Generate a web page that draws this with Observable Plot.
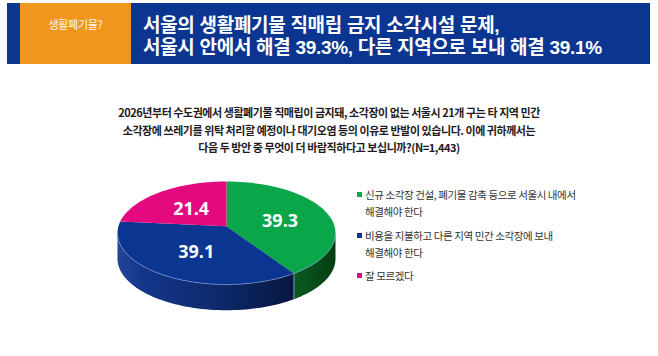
<!DOCTYPE html>
<html><head><meta charset="utf-8">
<script src="https://cdn.jsdelivr.net/npm/d3@7"></script>
<script src="https://cdn.jsdelivr.net/npm/@observablehq/plot@0.6"></script>
<style>
body{margin:0;background:#fff;}
#page{position:relative;width:658px;height:356px;overflow:hidden;background:#fff;font-family:"Noto Sans CJK KR","Noto Sans",sans-serif;}
.hdr{position:absolute;left:7px;top:3px;width:643px;height:61px;background:#0a3591;}
.tag{position:absolute;left:20px;top:3px;width:111px;height:61px;background:#f0961e;color:#fff6ea;font-size:11px;text-align:center;letter-spacing:-0.3px;}
.tag span{position:absolute;left:0;width:111px;top:14px;line-height:14px;}
.title{position:absolute;left:143px;top:15px;color:#fff;font-family:"Liberation Sans","Noto Sans CJK KR",sans-serif;font-weight:700;font-size:19px;line-height:21.5px;letter-spacing:-0.3px;white-space:nowrap;}
.q{position:absolute;left:0;width:658px;top:104px;text-align:center;color:#1e1b1c;font-weight:700;font-size:11px;line-height:17.5px;letter-spacing:-0.45px;}
#chart{position:absolute;left:100px;top:170px;}
.legend{position:absolute;left:357px;top:186px;color:#333;font-size:10.5px;line-height:17px;letter-spacing:-0.4px;}
.item{position:relative;padding-left:8px;margin-bottom:6.5px;white-space:nowrap;}
.sw{position:absolute;left:0;top:6px;width:5px;height:5px;}
</style></head>
<body><div id="page">
<div class="hdr"></div>
<div class="tag"><span id="tagText"></span></div>
<div class="title" id="title"></div>
<div class="q" id="question"></div>
<div id="chart"></div>
<div class="legend" id="legend"></div>
</div>
<script>
// ---- data ----
const tagLabel = "생활폐기물?";
const titleLines = ["서울의 생활폐기물 직매립 금지 소각시설 문제,", "서울시 안에서 해결 39.3%, 다른 지역으로 보내 해결 39.1%"];
const questionLines = [
  "2026년부터 수도권에서 생활폐기물 직매립이 금지돼, 소각장이 없는 서울시 21개 구는 타 지역 민간",
  "소각장에 쓰레기를 위탁 처리할 예정이나 대기오염 등의 이유로 반발이 있습니다. 이에 귀하께서는",
  "다음 두 방안 중 무엇이 더 바람직하다고 보십니까?(N=1,443)"
];
const categories = ["서울시 내 해결", "다른 지역 소각장", "잘 모르겠다"];
const legendLines = [
  ["신규 소각장 건설, 폐기물 감축 등으로 서울시 내에서", "해결해야 한다"],
  ["비용을 지불하고 다른 지역 민간 소각장에 보내", "해결해야 한다"],
  ["잘 모르겠다"]
];
const values = [39.3, 39.1, 21.4];
const topColors = ["#0aa64a", "#0a3591", "#e4097f"];
const sideColors = ["url(#greenSide)", "url(#blueSide)", "url(#pinkSide)"];

// ---- text ----
document.getElementById("tagText").textContent = tagLabel;
const titleEl = document.getElementById("title");
titleLines.forEach(s => { const d = document.createElement("div"); d.textContent = s; titleEl.appendChild(d); });
document.getElementById("question").innerHTML = questionLines.join("<br>");
const lg = document.getElementById("legend");
legendLines.forEach((lines, i) => {
  const it = document.createElement("div"); it.className = "item";
  const sw = document.createElement("div"); sw.className = "sw"; sw.style.background = topColors[i];
  it.appendChild(sw);
  const t = document.createElement("div"); t.innerHTML = lines.join("<br>");
  it.appendChild(t); lg.appendChild(it);
});

// ---- pie geometry ----
const TAU = Math.PI * 2;
const arcs = d3.pie().sort(null).startAngle(0).endAngle(TAU)(values);
const thick = 0.5;           // side thickness in y units
const apex = [0, -0.13];     // perspective apex of the top face
const rim = a => [Math.sin(a), -Math.cos(a)];
const steps = a0 => a1 => d3.range(0, 61).map(k => a0 + (a1 - a0) * k / 60);

const topPolys = [], sidePolys = [], labels = [], rimLine = [];
arcs.forEach((a, i) => {
  const pts = [apex, ...steps(a.startAngle)(a.endAngle).map(rim), apex];
  pts.forEach(([x, y]) => topPolys.push({x, y, k: categories[i], fill: topColors[i]}));
  const s0 = Math.max(a.startAngle, Math.PI / 2), s1 = Math.min(a.endAngle, 3 * Math.PI / 2);
  if (s1 > s0) {
    const up = steps(s0)(s1).map(rim);
    const down = up.slice().reverse().map(([x, y]) => [x, y + thick]);
    [...up, ...down, up[0]].forEach(([x, y]) => sidePolys.push({x, y, k: categories[i], fill: sideColors[i]}));
  }
  const m = (a.startAngle + a.endAngle) / 2, r = rim(m), f = 0.52;
  labels.push({x: apex[0] + f * (r[0] - apex[0]), y: apex[1] + f * (r[1] - apex[1]), v: values[i].toFixed(1)});
});
steps(Math.PI / 2)(3 * Math.PI / 2).map(rim).forEach(([x, y]) => rimLine.push({x, y}));
const seam = arcs.filter(a => a.endAngle > Math.PI / 2 && a.endAngle < 3 * Math.PI / 2)
  .flatMap((a, j) => { const [x, y] = rim(a.endAngle); return [{x, y, j}, {x, y: y + thick, j}]; });

const plot = Plot.plot({
  width: 250, height: 150,
  margin: 0,
  x: {domain: [-1, 1], range: [17, 235], axis: null},
  y: {domain: [-1, 1], range: [11, 114], axis: null},
  marks: [
    Plot.line(sidePolys, {x: "x", y: "y", z: "k", fill: "fill", stroke: "none", curve: "linear"}),
    Plot.line(seam, {x: "x", y: "y", z: "j", stroke: "#9fb3d9", strokeWidth: 0.8}),
    Plot.line(topPolys, {x: "x", y: "y", z: "k", fill: "fill", stroke: "none", curve: "linear"}),
    Plot.line(rimLine, {x: "x", y: "y", stroke: "#8ea2d8", strokeWidth: 0.7, strokeOpacity: 0.8}),
    Plot.text(labels, {x: "x", y: "y", text: "v", fill: "white", fontSize: 18, fontWeight: 700, fontFamily: "Open Sans"})
  ]
});
const defs = d3.select(plot).insert("defs", ":first-child");
function grad(id, stops) {
  const g = defs.append("linearGradient").attr("id", id).attr("x1", "0").attr("x2", "1").attr("y1", "0").attr("y2", "0");
  stops.forEach(([o, c]) => g.append("stop").attr("offset", o).attr("stop-color", c));
}
grad("blueSide", [[0, "#24449a"], [0.15, "#14358a"], [0.6, "#0d2968"], [1, "#07163f"]]);
grad("greenSide", [[0, "#0a5a22"], [1, "#033d12"]]);
grad("pinkSide", [[0, "#a0065a"], [1, "#70043f"]]);
plot.style.background = "transparent";
plot.style.overflow = "visible";
document.getElementById("chart").appendChild(plot);
</script>
</body></html>
